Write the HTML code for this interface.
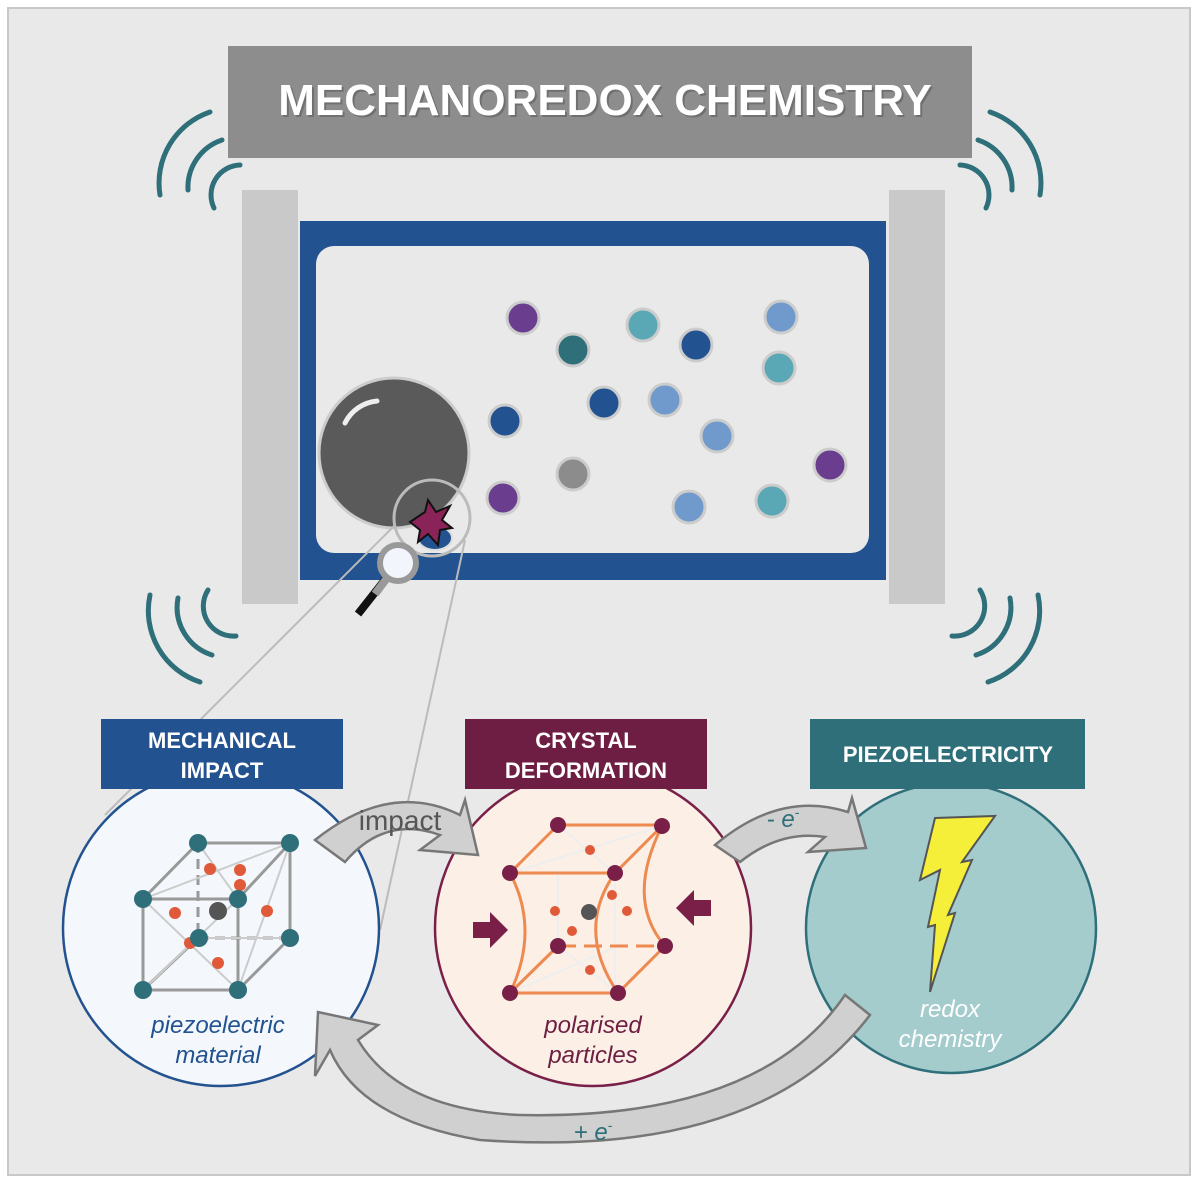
<!DOCTYPE html>
<html><head><style>body{margin:0;background:#fff}svg{display:block}</style></head><body>
<svg width="1200" height="1183" viewBox="0 0 1200 1183" xmlns="http://www.w3.org/2000/svg" font-family="Liberation Sans, sans-serif">
<rect x="8" y="8" width="1182" height="1167" fill="#e9e9e9" stroke="#c8c8c8" stroke-width="2"/>
<g fill="none" stroke="#2e6f7a" stroke-width="5" stroke-linecap="round">
<path d="M160 195 A75 75 0 0 1 210 112"/><path d="M188 190 A50 50 0 0 1 222 140"/><path d="M214 208 A30 30 0 0 1 240 165"/>
<path d="M1040 195 A75 75 0 0 0 990 112"/><path d="M1012 190 A50 50 0 0 0 978 140"/><path d="M986 208 A30 30 0 0 0 960 165"/>
<path d="M150 595 A75 75 0 0 0 200 682"/><path d="M178 598 A50 50 0 0 0 212 655"/><path d="M208 590 A30 30 0 0 0 236 636"/>
<path d="M1038 595 A75 75 0 0 1 988 682"/><path d="M1010 598 A50 50 0 0 1 976 655"/><path d="M980 590 A30 30 0 0 1 952 636"/>
</g>
<rect x="228" y="46" width="744" height="112" fill="#8d8d8d"/>
<text x="607" y="117" text-anchor="middle" font-size="44" fill="#555" opacity="0.5" font-weight="bold">MECHANOREDOX CHEMISTRY</text>
<text x="605" y="115" text-anchor="middle" font-size="44" fill="#fff" font-weight="bold">MECHANOREDOX CHEMISTRY</text>
<rect x="242" y="190" width="56" height="414" fill="#c9c9c9"/>
<rect x="889" y="190" width="56" height="414" fill="#c9c9c9"/>
<rect x="300" y="221" width="586" height="359" fill="#22528f"/>
<rect x="316" y="246" width="553" height="307" rx="18" fill="#e9e9e9"/>
<g stroke="#ccc" stroke-width="3">
<circle cx="523" cy="318" r="16" fill="#6a3d8e"/><circle cx="573" cy="350" r="16" fill="#2e6f7a"/><circle cx="643" cy="325" r="16" fill="#5aa8b5"/><circle cx="696" cy="345" r="16" fill="#22528f"/><circle cx="781" cy="317" r="16" fill="#6f9acb"/><circle cx="779" cy="368" r="16" fill="#5aa8b5"/><circle cx="604" cy="403" r="16" fill="#22528f"/><circle cx="665" cy="400" r="16" fill="#6f9acb"/><circle cx="717" cy="436" r="16" fill="#6f9acb"/><circle cx="505" cy="421" r="16" fill="#22528f"/><circle cx="573" cy="474" r="16" fill="#8c8c8c"/><circle cx="503" cy="498" r="16" fill="#6a3d8e"/><circle cx="689" cy="507" r="16" fill="#6f9acb"/><circle cx="772" cy="501" r="16" fill="#5aa8b5"/><circle cx="830" cy="465" r="16" fill="#6a3d8e"/>
<circle cx="394" cy="453" r="75" fill="#5a5a5a"/>
</g>
<path d="M345 423 A40 40 0 0 1 377 401" stroke="#eee" stroke-width="5" fill="none" stroke-linecap="round"/>
<ellipse cx="435" cy="538" rx="17" ry="12" fill="#22528f" stroke="#ddd" stroke-width="2"/>
<polygon points="410,522 425,512 428,500 436,512 450,506 442,520 452,528 440,530 438,545 428,534 418,542 420,530" fill="#8a2458" stroke="#111" stroke-width="2"/>
<circle cx="432" cy="518" r="38" fill="none" stroke="#bbb" stroke-width="3"/>
<line x1="395" y1="525" x2="105" y2="815" stroke="#bbb" stroke-width="2"/>
<line x1="465" y1="540" x2="380" y2="930" stroke="#bbb" stroke-width="2"/>
<line x1="388" y1="576" x2="358" y2="614" stroke="#111" stroke-width="8"/>
<line x1="390" y1="574" x2="375" y2="594" stroke="#999" stroke-width="8"/>
<circle cx="398" cy="563" r="18" fill="#f2f6fc" stroke="#999" stroke-width="6"/>
<circle cx="221" cy="928" r="158" fill="#f4f8fc" stroke="#22528f" stroke-width="2.5"/>
<circle cx="593" cy="928" r="158" fill="#fbefe6" stroke="#7a2048" stroke-width="2.5"/>
<circle cx="951" cy="928" r="145" fill="#a5cccd" stroke="#2e6f7a" stroke-width="2.5"/>
<rect x="101" y="719" width="242" height="70" fill="#22528f"/>
<text fill="#fff" font-size="22" font-weight="bold" text-anchor="middle"><tspan x="222" y="748">MECHANICAL</tspan><tspan x="222" y="778">IMPACT</tspan></text>
<rect x="465" y="719" width="242" height="70" fill="#6d1e42"/>
<text fill="#fff" font-size="22" font-weight="bold" text-anchor="middle"><tspan x="586" y="748">CRYSTAL</tspan><tspan x="586" y="778">DEFORMATION</tspan></text>
<rect x="810" y="719" width="275" height="70" fill="#2e6f7a"/>
<text x="948" y="762" fill="#fff" font-size="22" font-weight="bold" text-anchor="middle">PIEZOELECTRICITY</text>
<g fill="#d0d0d0" stroke="#777" stroke-width="2.5">
<path d="M315 840 Q390 780 460 815 L465 800 L478 855 L420 850 L440 835 Q385 815 345 862 Z"/>
<path d="M715 845 Q780 790 848 812 L852 798 L866 848 L808 852 L825 837 Q780 830 740 862 Z"/>
<path d="M870 1015 Q760 1160 480 1140 Q360 1120 330 1050 L315 1076 L318 1012 L378 1025 L358 1040 Q400 1110 520 1115 Q760 1120 845 995 Z"/>
</g>
<text x="400" y="830" font-size="28" fill="#555" text-anchor="middle">impact</text>
<text x="783" y="827" font-size="24" fill="#2e6f7a" text-anchor="middle" font-style="italic">- e<tspan font-size="14" dy="-10">-</tspan></text>
<text x="593" y="1140" font-size="24" fill="#2e6f7a" text-anchor="middle" font-style="italic">+ e<tspan font-size="14" dy="-10">-</tspan></text>
<g stroke="#999" stroke-width="3">
<path d="M198 843 H290 V938 M198 843 L143 899 H238 L290 843 M143 899 V990 H238 V899 M238 990 L290 938 M143 990 L198 938" fill="none"/>
<path d="M198 843 V938 H290" fill="none" stroke-dasharray="10 6"/>
</g>
<g stroke="#ccc" stroke-width="2">
<line x1="198" y1="843" x2="238" y2="899"/><line x1="143" y1="899" x2="290" y2="843"/><line x1="143" y1="990" x2="238" y2="899"/><line x1="238" y1="990" x2="290" y2="843"/><line x1="143" y1="899" x2="238" y2="990"/><line x1="198" y1="938" x2="290" y2="938"/>
</g>
<g fill="#e05a3a"><circle cx="240" cy="885" r="6"/><circle cx="175" cy="913" r="6"/><circle cx="267" cy="911" r="6"/><circle cx="190" cy="943" r="6"/><circle cx="218" cy="963" r="6"/><circle cx="240" cy="870" r="6"/><circle cx="210" cy="869" r="6"/></g>
<g fill="#2e6f7a"><circle cx="198" cy="843" r="9"/><circle cx="290" cy="843" r="9"/><circle cx="143" cy="899" r="9"/><circle cx="238" cy="899" r="9"/><circle cx="290" cy="938" r="9"/><circle cx="143" cy="990" r="9"/><circle cx="238" cy="990" r="9"/><circle cx="199" cy="938" r="9"/></g>
<circle cx="218" cy="911" r="9" fill="#555"/>
<g stroke="#eee" stroke-width="2"><line x1="558" y1="825" x2="615" y2="873"/><line x1="510" y1="873" x2="662" y2="826"/><line x1="510" y1="993" x2="618" y2="946"/><line x1="558" y1="946" x2="618" y2="993"/><line x1="558" y1="873" x2="558" y2="946"/><line x1="615" y1="873" x2="615" y2="993"/></g>
<g stroke="#ee8a50" stroke-width="3" fill="none">
<path d="M558 825 H662 M558 825 L510 873 H615 L662 826 M510 993 H618 L665 946 M510 993 L558 946 M662 826 Q625 900 665 946 M615 873 Q575 930 618 993 M510 873 Q540 930 510 993"/>
<path d="M558 946 H665" stroke-dasharray="18 8"/>
</g>
<g fill="#e05a3a"><circle cx="590" cy="850" r="5"/><circle cx="612" cy="895" r="5"/><circle cx="555" cy="911" r="5"/><circle cx="627" cy="911" r="5"/><circle cx="572" cy="931" r="5"/><circle cx="590" cy="970" r="5"/></g>
<g fill="#7a2048"><circle cx="558" cy="825" r="8"/><circle cx="662" cy="826" r="8"/><circle cx="510" cy="873" r="8"/><circle cx="615" cy="873" r="8"/><circle cx="558" cy="946" r="8"/><circle cx="665" cy="946" r="8"/><circle cx="510" cy="993" r="8"/><circle cx="618" cy="993" r="8"/><polygon points="473,922 490,922 490,912 508,930 490,948 490,938 473,938"/><polygon points="711,900 694,900 694,890 676,908 694,926 694,916 711,916"/></g>
<circle cx="589" cy="912" r="8" fill="#555"/>
<polygon points="935,818 995,816 962,862 972,860 948,915 955,913 930,992 935,925 928,927 940,870 920,880" fill="#f5ef3a" stroke="#555" stroke-width="2"/>
<text font-size="24" font-style="italic" text-anchor="middle" fill="#22528f"><tspan x="218" y="1033">piezoelectric</tspan><tspan x="218" y="1063">material</tspan></text>
<text font-size="24" font-style="italic" text-anchor="middle" fill="#6d1e42"><tspan x="593" y="1033">polarised</tspan><tspan x="593" y="1063">particles</tspan></text>
<text font-size="24" font-style="italic" text-anchor="middle" fill="#fff"><tspan x="950" y="1017">redox</tspan><tspan x="950" y="1047">chemistry</tspan></text>
</svg>
</body></html>
